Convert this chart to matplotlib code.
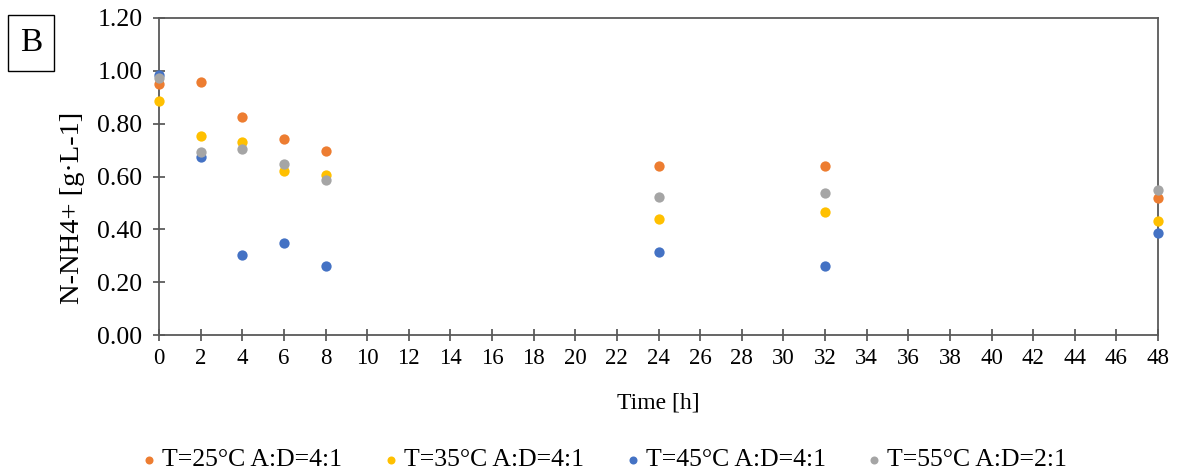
import matplotlib.pyplot as plt
from matplotlib.patches import Rectangle

plt.rcParams['font.family'] = ['Liberation Serif', 'DejaVu Serif']

# Tempo de amostragem [h]
time_h = [0, 2, 4, 6, 8, 24, 32, 48]

# N-NH4+ [g/L] para cada condição
t25 = [0.95, 0.957, 0.825, 0.742, 0.697, 0.638, 0.638, 0.517]
t35 = [0.884, 0.755, 0.732, 0.619, 0.606, 0.438, 0.467, 0.430]
t45 = [0.985, 0.672, 0.303, 0.350, 0.261, 0.316, 0.263, 0.388]
t55 = [0.972, 0.692, 0.703, 0.646, 0.587, 0.522, 0.537, 0.549]

labels = ["T=25°C A:D=4:1", "T=35°C A:D=4:1", "T=45°C A:D=4:1", "T=55°C A:D=2:1"]
colors = ["#ED7D31", "#FFC000", "#4472C4", "#A5A5A5"]

fig = plt.figure(figsize=(11.8, 4.76), dpi=100)
ax = fig.add_axes([159 / 1180, 1 - 335 / 476, (1158 - 159) / 1180, (335 - 18) / 476])

for serie, lab, cor in zip([t25, t35, t45, t55], labels, colors):
    ax.scatter(time_h, serie, s=55, color=cor, label=lab, zorder=3,
               clip_on=False, linewidths=0)

ax.set_xlim(0, 48)
ax.set_ylim(0, 1.2)
ax.set_xticks(range(0, 49, 2))
ax.set_yticks([0, 0.2, 0.4, 0.6, 0.8, 1.0, 1.2])
ax.set_yticklabels([f"{v:.2f}" for v in ax.get_yticks()])

for sp in ax.spines.values():
    sp.set_color("#595959")
    sp.set_linewidth(1.3)

ax.tick_params(direction="inout", length=8, width=1.1, color="#404040",
               labelcolor="black")
ax.tick_params(axis="y", pad=8, labelsize=18.5)
ax.tick_params(axis="x", pad=5, labelsize=16.5)

ax.set_xlabel("Time [h]", fontsize=17)
ax.xaxis.set_label_coords(0.5, -0.18)
ax.set_ylabel("N-NH4+ [g·L-1]", fontsize=20.5)
ax.yaxis.set_label_coords(-0.074, 0.40)

# Letra do painel
fig.patches.append(Rectangle((8 / 1180, 1 - 71 / 476), 46 / 1180, 56 / 476,
                             transform=fig.transFigure, fill=False,
                             edgecolor="black", linewidth=1))
fig.text(31 / 1180, 1 - 43 / 476, "B", fontsize=24, ha="center", va="center")

leg = fig.legend(loc="center", bbox_to_anchor=(0.51, 1 - 460 / 476), ncol=4,
                 frameon=False, fontsize=18.5, markerscale=0.78,
                 handletextpad=0.0, columnspacing=1.4, handlelength=1.0)

fig.savefig("out.png", dpi=100)
